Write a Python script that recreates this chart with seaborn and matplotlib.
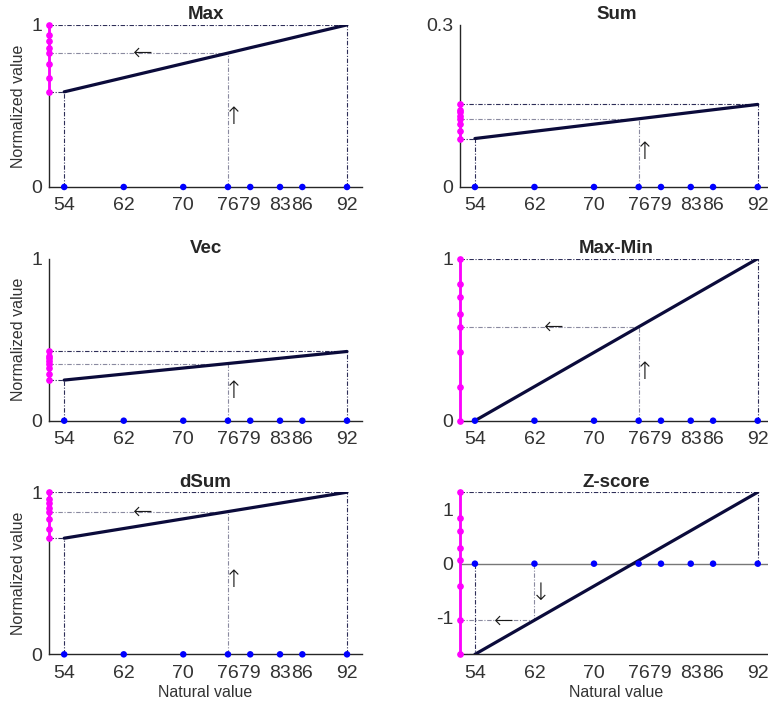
import matplotlib
matplotlib.use("Agg")
import matplotlib.pyplot as plt
import seaborn as sns
import pandas as pd

# natural values and their normalised versions
natural = [54, 62, 70, 76, 79, 83, 86, 92]
max_vals = [0.587, 0.674, 0.761, 0.826, 0.859, 0.902, 0.935, 1.000]
sum_vals = [0.0897, 0.1030, 0.1163, 0.1262, 0.1312, 0.1379, 0.1429, 0.1528]
vec_vals = [0.2506, 0.2877, 0.3249, 0.3527, 0.3666, 0.3852, 0.3991, 0.4270]
maxmin_vals = [0.0, 0.2105, 0.4211, 0.5789, 0.6579, 0.7632, 0.8421, 1.0]
dsum_vals = [0.7164, 0.7761, 0.8358, 0.8806, 0.9030, 0.9328, 0.9552, 1.0]
zscore_vals = [-1.676, -1.045, -0.414, 0.059, 0.296, 0.611, 0.848, 1.321]

titles = ["Max", "Sum", "Vec", "Max-Min", "dSum", "Z-score"]
series = [max_vals, sum_vals, vec_vals, maxmin_vals, dsum_vals, zscore_vals]
y_ticks = [[0, 1], [0, 0.3], [0, 1], [0, 1], [0, 1], [-1, 0, 1]]
y_ticklabels = [["0", "1"], ["0", "0.3"], ["0", "1"], ["0", "1"], ["0", "1"], ["-1", "0", "1"]]
marked_idx = [3, 3, 3, 3, 3, 1]
left_arrow = [True, False, False, True, True, True]

NAVY = "#0b0b3b"
DARK = "#2e2e58"
LIGHT = "#8a8aa0"
MAGENTA = "#ff00ff"
BLUE = "#0000ff"
DASHDOT = (0, (4, 1.5, 1, 1.5))

sns.set_theme(style="white")
plt.rcParams['font.family'] = ['Liberation Sans', 'DejaVu Sans']

fig = plt.figure(figsize=(7.68, 7.11), dpi=100)
lefts = [0.0642, 0.599]
bottoms = [0.737, 0.4083, 0.0797]
w, h = 0.407, 0.228
x0, x1 = 52, 94

for i, vals in enumerate(series):
    r, c = divmod(i, 2)
    ax = fig.add_axes([lefts[c], bottoms[r], w, h])
    df = pd.DataFrame({"natural": natural, "norm": vals})

    vmin, vmax = min(vals), max(vals)
    if titles[i] == "Z-score":
        ax.set_ylim(vmin, vmax)
        ax.axhline(0, color="#777777", lw=1.0, zorder=1)
    elif titles[i] == "Sum":
        ax.set_ylim(0, 0.3)
    else:
        ax.set_ylim(0, 1)
    ax.set_xlim(x0, x1)

    # guide lines to the extremes
    xa, xb = natural[0], natural[-1]
    ax.plot([x0, xb], [vmax, vmax], color=DARK, lw=0.8, ls=DASHDOT, zorder=2)
    ax.plot([xb, xb], [0, vmax], color=DARK, lw=0.8, ls=DASHDOT, zorder=2)
    ax.plot([x0, xa], [vmin, vmin], color=DARK, lw=0.8, ls=DASHDOT, zorder=2)
    ax.plot([xa, xa], [0, vmin], color=DARK, lw=0.8, ls=DASHDOT, zorder=2)

    # guide lines for the example point
    k = marked_idx[i]
    xm, vm = natural[k], vals[k]
    ax.plot([x0, xm], [vm, vm], color=LIGHT, lw=0.8, ls=DASHDOT, zorder=2)
    ax.plot([xm, xm], [0, vm], color=LIGHT, lw=0.8, ls=DASHDOT, zorder=2)
    vert = "\u2193" if vm < 0 else "\u2191"
    ax.text(xm + 0.8, 0.52 * vm, vert, ha="center", va="center", fontsize=17,
            color="#1a1a1a", family=["DejaVu Sans"], fontweight="light")
    if left_arrow[i]:
        xl = 57.9 if vm < 0 else 64.6
        ax.text(xl, vm, "\u2190", ha="center", va="center", fontsize=17,
                color="#1a1a1a", family=["DejaVu Sans"], fontweight="light")

    sns.lineplot(data=df, x="natural", y="norm", ax=ax, color=NAVY, lw=2.3, zorder=3)

    # normalised values on the y axis, natural values on the baseline
    ax.plot([x0] * len(vals), vals, color=MAGENTA, lw=2, marker="o", ms=3.8,
            clip_on=False, zorder=6)
    sns.scatterplot(x=natural, y=[0] * len(natural), ax=ax, color=BLUE, s=22,
                    edgecolor="none", clip_on=False, zorder=6)

    ax.set_xticks(natural)
    ax.set_xticklabels([str(v) for v in natural])
    ax.set_yticks(y_ticks[i])
    ax.set_yticklabels(y_ticklabels[i])
    ax.tick_params(direction="in", length=3, width=0.8, colors="#262626", labelsize=14)
    ax.tick_params(axis="x", pad=7.5)
    ax.tick_params(axis="y", pad=5)
    for lbl in ax.get_xticklabels() + ax.get_yticklabels():
        lbl.set_color("#333333")

    for s in ["top", "right"]:
        ax.spines[s].set_visible(False)
    for s in ["left", "bottom"]:
        ax.spines[s].set_color("#262626")
        ax.spines[s].set_linewidth(1.0)

    ax.set_title(titles[i], fontsize=13.5, fontweight="bold", pad=4)
    ax.set_ylabel("Normalized value" if c == 0 else "", fontsize=11.5, color="#333333", labelpad=4)
    ax.set_xlabel("Natural value" if r == 2 else "", fontsize=11.5, color="#333333", labelpad=2)

fig.savefig("out.png", dpi=100)
